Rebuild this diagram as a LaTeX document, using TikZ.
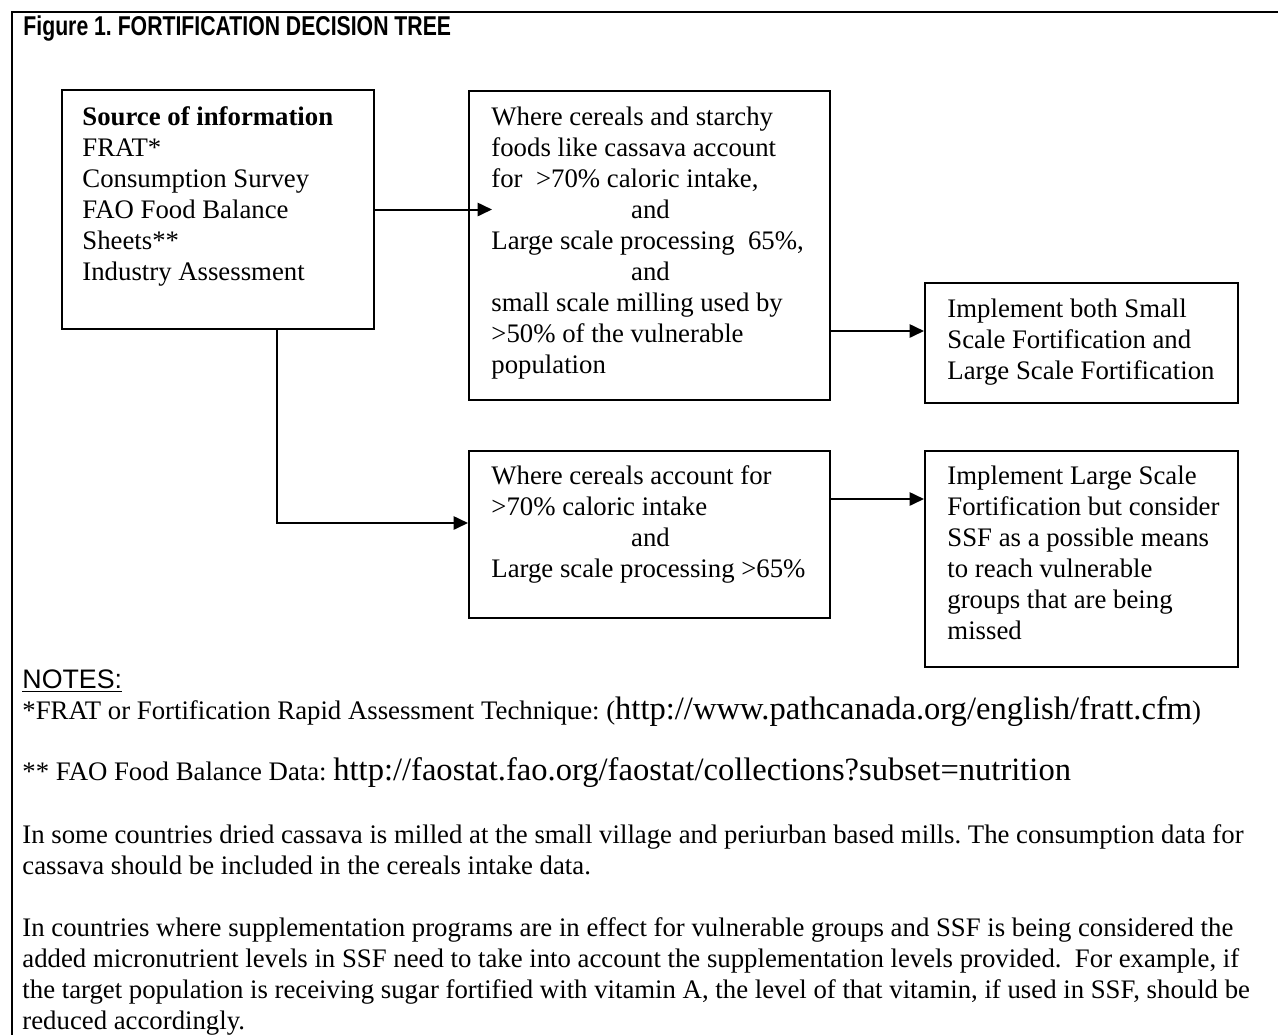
\documentclass[tikz,border=0pt]{standalone}
\usepackage{fontspec}
\setmainfont{Liberation Serif}
\newfontfamily\narrowsans[FakeStretch=0.78]{Liberation Sans}
\newfontfamily\notesans{Liberation Sans}
\usetikzlibrary{calc,fit,arrows.meta}
\tikzset{
	box/.style={draw, line width=0.9pt, inner sep=0pt},
	txt/.style={font=\fontsize{12}{13.9}\selectfont, inner sep=0pt, anchor=north west, align=left},
	line/.style={font=\fontsize{12}{13.9}\selectfont, inner sep=0pt, anchor=base west},
	arr/.style={line width=0.9pt, -{Triangle[length=6.5pt,width=6pt]}}
}
\newcommand{\androw}{\hbox to 142.6pt{\hfil and\hfil}}
\newcommand{\urlfont}{\fontsize{14.6}{16.5}\selectfont}
\frenchspacing

\begin{document}
\begin{tikzpicture}[x=0.4484pt, y=-0.4484pt]
	%%%%% START %%%%%
	\useasboundingbox (0,0) rectangle (1278,1034);
	\draw[line width=1.3pt] (1290,12) -- (12,12) -- (12,1045);
	
	\node[anchor=base west, inner sep=0pt, font=\narrowsans\bfseries\fontsize{12.2}{14}\selectfont] (title) at (23,35) {Figure 1. FORTIFICATION DECISION TREE};
	
	%%%%% BOXES %%%%%
	\node[box, fit={(62,90) (374,329)}] (src) {};
	\node[box, fit={(469,91) (830,400)}] (cond1) {};
	\node[box, fit={(925,283) (1238,403)}] (act1) {};
	\node[box, fit={(469,451) (830,618)}] (cond2) {};
	\node[box, fit={(925,451) (1238,667)}] (act2) {};
	
	\node[txt] (srctxt) at (82,103.3) {\strut\textbf{Source of information}\\FRAT*\\Consumption Survey\\FAO Food Balance\\Sheets**\\Industry Assessment};
	\node[txt] (cond1txt) at (491,103.3) {\strut Where cereals and starchy\\foods like cassava account\\for\ \ >70\% caloric intake,\\\androw\\Large scale processing\ \ 65\%,\\\androw\\small scale milling used by\\>50\% of the vulnerable\\population};
	\node[txt] (act1txt) at (947,295.3) {\strut Implement both Small\\Scale Fortification and\\Large Scale Fortification};
	\node[txt] (cond2txt) at (491,462.3) {\strut Where cereals account for\\>70\% caloric intake\\\androw\\Large scale processing >65\%};
	\node[txt] (act2txt) at (947,462.3) {\strut Implement Large Scale\\Fortification but consider\\SSF as a possible means\\to reach vulnerable\\groups that are being\\missed};
	
	%%%%% ARROWS %%%%%
	\coordinate (inB) at ($(cond1.west)+(24,0)$);
	\draw[arr] (src.east) -- (src.east -| inB);
	\coordinate (row1) at (0,331);
	\draw[arr] (cond1.east |- row1) -- (act1.west |- row1);
	\coordinate (drop) at (277,523);
	\draw[arr] (src.south -| drop) |- (cond2.west |- drop);
	\coordinate (row2) at (0,499);
	\draw[arr] (cond2.east |- row2) -- (act2.west |- row2);
	
	%%%%% NOTES %%%%%
	\node[line, font=\notesans\fontsize{12}{13.9}\selectfont] (notes) at (22,688) {\underline{NOTES:}};
	\node[line] (fn1) at (22,719) {*FRAT or Fortification Rapid Assessment Technique: ({\urlfont http://www.pathcanada.org/english/fratt.cfm})};
	\node[line] (fn2) at (22,780) {** FAO Food Balance Data: {\urlfont http://faostat.fao.org/faostat/collections?subset=nutrition}};
	\node[txt] (para1) at (22,821.3) {\strut In some countries dried cassava is milled at the small village and periurban based mills. The consumption data for\\cassava should be included in the cereals intake data.};
	\node[txt] (para2) at (22,914.3) {\strut In countries where supplementation programs are in effect for vulnerable groups and SSF is being considered the\\added micronutrient levels in SSF need to take into account the supplementation levels provided.\ \ For example, if\\the target population is receiving sugar fortified with vitamin A, the level of that vitamin, if used in SSF, should be\\reduced accordingly.};
	
	%%%%% END %%%%%
\end{tikzpicture}
\end{document}
